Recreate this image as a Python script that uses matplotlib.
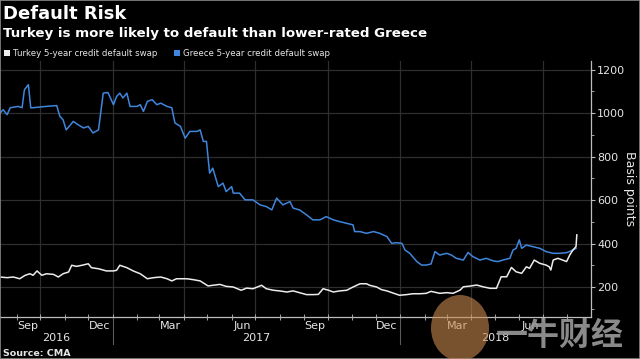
import matplotlib
matplotlib.use('Agg')
import matplotlib.pyplot as plt
import matplotlib.dates as mdates
import matplotlib.transforms as mtransforms
from matplotlib.patches import Rectangle, Ellipse
import pandas as pd

# ---------------- data ----------------
greece_dates = [
    "2016-08-11", "2016-08-15", "2016-08-20", "2016-08-24", "2016-09-03", "2016-09-08",
    "2016-09-11", "2016-09-16", "2016-09-19", "2016-09-22", "2016-10-05", "2016-10-22",
    "2016-10-26", "2016-10-30", "2016-11-03", "2016-11-12", "2016-11-18", "2016-11-25",
    "2016-12-01", "2016-12-07", "2016-12-14", "2016-12-20", "2016-12-26", "2017-01-02",
    "2017-01-06", "2017-01-10", "2017-01-14", "2017-01-19", "2017-01-23", "2017-02-01",
    "2017-02-05", "2017-02-09", "2017-02-14", "2017-02-20", "2017-02-26", "2017-03-03",
    "2017-03-11", "2017-03-17", "2017-03-21", "2017-03-28", "2017-04-03", "2017-04-09",
    "2017-04-18", "2017-04-22", "2017-04-26", "2017-04-30", "2017-05-04", "2017-05-08",
    "2017-05-15", "2017-05-21", "2017-05-25", "2017-06-01", "2017-06-03", "2017-06-11",
    "2017-06-18", "2017-06-28", "2017-07-07", "2017-07-15", "2017-07-22", "2017-07-28",
    "2017-08-05", "2017-08-14", "2017-08-18", "2017-08-26", "2017-09-04", "2017-09-12",
    "2017-09-21", "2017-09-29", "2017-10-08", "2017-10-16", "2017-10-25", "2017-11-02",
    "2017-11-04", "2017-11-11", "2017-11-19", "2017-11-28", "2017-12-06", "2017-12-15",
    "2017-12-21", "2017-12-27", "2018-01-03", "2018-01-07", "2018-01-13", "2018-01-22",
    "2018-01-28", "2018-02-03", "2018-02-09", "2018-02-14", "2018-02-20", "2018-03-01",
    "2018-03-07", "2018-03-13", "2018-03-22", "2018-03-28", "2018-04-03", "2018-04-12",
    "2018-04-20", "2018-04-29", "2018-05-05", "2018-05-11", "2018-05-20", "2018-05-24",
    "2018-05-28", "2018-06-01", "2018-06-04", "2018-06-10", "2018-06-18", "2018-06-27",
    "2018-07-05", "2018-07-14", "2018-07-22", "2018-07-31", "2018-08-08", "2018-08-12",
]
greece_values = [
    1000, 1016, 993, 1025, 1031, 1025,
    1108, 1131, 1025, 1025, 1030, 1035,
    985, 970, 923, 962, 947, 932,
    939, 909, 923, 1092, 1095, 1039,
    1077, 1092, 1070, 1092, 1031, 1031,
    1039, 1008, 1054, 1062, 1039, 1046,
    1031, 1025, 955, 939, 885, 916,
    916, 923, 870, 870, 724, 747,
    662, 678, 639, 662, 632, 632,
    601, 601, 578, 570, 555, 609,
    578, 593, 563, 555, 532, 509,
    509, 524, 509, 501, 493, 486,
    455, 455, 447, 455, 447, 432,
    401, 404, 401, 370, 355, 317,
    301, 301, 306, 363, 347, 355,
    347, 332, 324, 359, 340, 324,
    332, 320, 317, 324, 332, 370,
    378, 417, 378, 393, 386, 378,
    363, 355, 355, 358, 370, 378,
]

turkey_dates = [
    "2016-08-11", "2016-08-20", "2016-08-28", "2016-09-05", "2016-09-12", "2016-09-18",
    "2016-09-22", "2016-09-27", "2016-10-03", "2016-10-09", "2016-10-18", "2016-10-24",
    "2016-10-30", "2016-11-06", "2016-11-10", "2016-11-16", "2016-11-23", "2016-12-01",
    "2016-12-05", "2016-12-14", "2016-12-24", "2017-01-02", "2017-01-06", "2017-01-10",
    "2017-01-19", "2017-01-27", "2017-02-05", "2017-02-14", "2017-02-22", "2017-03-03",
    "2017-03-11", "2017-03-17", "2017-03-23", "2017-04-05", "2017-04-13", "2017-04-22",
    "2017-05-02", "2017-05-17", "2017-05-25", "2017-06-03", "2017-06-13", "2017-06-20",
    "2017-06-28", "2017-07-09", "2017-07-15", "2017-07-24", "2017-08-01", "2017-08-10",
    "2017-08-18", "2017-08-26", "2017-09-04", "2017-09-12", "2017-09-19", "2017-09-25",
    "2017-10-02", "2017-10-08", "2017-10-16", "2017-10-25", "2017-11-02", "2017-11-11",
    "2017-11-19", "2017-11-23", "2017-12-02", "2017-12-08", "2017-12-15", "2017-12-23",
    "2017-12-31", "2018-01-09", "2018-01-17", "2018-01-26", "2018-02-03", "2018-02-09",
    "2018-02-20", "2018-03-01", "2018-03-09", "2018-03-18", "2018-03-22", "2018-03-30",
    "2018-04-08", "2018-04-16", "2018-04-25", "2018-05-03", "2018-05-09", "2018-05-16",
    "2018-05-22", "2018-05-28", "2018-06-04", "2018-06-10", "2018-06-14", "2018-06-20",
    "2018-06-27", "2018-07-05", "2018-07-09", "2018-07-11", "2018-07-14", "2018-07-20",
    "2018-07-26", "2018-07-31", "2018-08-04", "2018-08-08", "2018-08-12", "2018-08-13",
]
turkey_values = [
    246, 243, 246, 238, 254, 261,
    254, 274, 254, 261, 258, 246,
    261, 269, 300, 295, 300, 307,
    289, 284, 274, 274, 277, 300,
    289, 274, 261, 238, 243, 246,
    238, 228, 238, 238, 234, 228,
    205, 212, 203, 200, 185, 195,
    192, 208, 192, 185, 182, 177,
    182, 174, 165, 165, 166, 192,
    185, 177, 182, 185, 200, 215,
    215, 208, 200, 188, 182, 172,
    162, 165, 169, 169, 171, 180,
    171, 174, 171, 186, 201, 204,
    209, 201, 194, 194, 247, 247,
    290, 270, 263, 293, 286, 324,
    309, 301, 293, 278, 324, 332,
    324, 317, 347, 370, 386, 440,
]

y_ticks = [200, 400, 600, 800, 1000, 1200]
month_labels = ["Sep", "Dec", "Mar", "Jun", "Sep", "Dec", "Mar", "Jun"]
month_label_dates = ["2016-09-15", "2016-12-15", "2017-03-15", "2017-06-15",
                     "2017-09-15", "2017-12-15", "2018-03-15", "2018-06-15"]
year_labels = ["2016", "2017", "2018"]
year_starts = ["2017-01-01", "2018-01-01"]
quarter_grid_dates = ["2016-10-01", "2017-01-01", "2017-04-01", "2017-07-01",
                      "2017-10-01", "2018-01-01", "2018-04-01", "2018-07-01"]
x_start, x_end = "2016-08-11", "2018-08-31"

# ---------------- styling ----------------
BG = "#000000"
BLUE = "#3f86dc"
WHITE = "#ececec"
GRID = "#2e2e2e"
TXT = "#e6e6e6"
W, H = 640, 359

fig = plt.figure(figsize=(6.4, 3.59), dpi=100, facecolor=BG)
ax = fig.add_axes([0.0, 42 / H, 591 / W, (317 - 61) / H])
ax.set_facecolor(BG)

gd = pd.to_datetime(greece_dates)
td = pd.to_datetime(turkey_dates)
ax.plot(gd, greece_values, color=BLUE, lw=1.1, zorder=3)
ax.plot(td, turkey_values, color=WHITE, lw=1.1, zorder=3)

ax.set_xlim(pd.Timestamp(x_start), pd.Timestamp(x_end))
ax.set_ylim(62, 1240)

# grid
for yv in y_ticks:
    ax.axhline(yv, color=GRID, lw=0.9, zorder=1)
for d in quarter_grid_dates:
    ax.axvline(pd.Timestamp(d), color=GRID, lw=0.9, zorder=1)

# spines
for s in ["top", "left"]:
    ax.spines[s].set_visible(False)
ax.spines["bottom"].set_color("#bdbdbd")
ax.spines["bottom"].set_linewidth(0.9)
ax.spines["right"].set_color("#bdbdbd")
ax.spines["right"].set_linewidth(0.9)

# y axis on right
ax.yaxis.tick_right()
ax.set_yticks(y_ticks)
ax.set_yticklabels([str(v) for v in y_ticks])
ax.set_yticks(list(range(100, 1300, 100)), minor=True)
ax.tick_params(axis="y", which="major", colors="#bdbdbd", labelcolor=TXT,
               labelsize=8, length=3, width=0.8, pad=1.5)
ax.tick_params(axis="y", which="minor", colors="#bdbdbd", length=2, width=0.6)
ax.yaxis.set_label_position("right")
ax.set_ylabel("Basis points", color=TXT, fontsize=9, rotation=270, labelpad=8)

# x axis
ax.xaxis.set_minor_locator(mdates.MonthLocator())
ax.set_xticks(pd.to_datetime(month_label_dates))
ax.set_xticklabels(month_labels)
ax.tick_params(axis="x", which="major", length=0, labelcolor=TXT, labelsize=8, pad=3)
ax.tick_params(axis="x", which="minor", direction="inout", length=4, width=0.6,
               colors="#bdbdbd")

# year labels & separators
trans = mtransforms.blended_transform_factory(ax.transData, ax.transAxes)
bounds = [pd.Timestamp(x_start)] + [pd.Timestamp(d) for d in year_starts] + [pd.Timestamp(x_end)]
for i, lab in enumerate(year_labels):
    mid = bounds[i] + (bounds[i + 1] - bounds[i]) / 2
    ax.text(mdates.date2num(mid), -0.082, lab, transform=trans, ha="center", va="center",
            color=TXT, fontsize=8)
for d in year_starts:
    ax.plot([pd.Timestamp(d)] * 2, [0, -0.105], transform=trans, color="#5a5a5a",
            lw=0.8, clip_on=False)

# titles
fig.text(3 / W, 1 - 14 / H, "Default Risk", color="white", fontsize=13,
         fontweight="bold", va="center", ha="left")
fig.text(3 / W, 1 - 33 / H, "Turkey is more likely to default than lower-rated Greece",
         color="white", fontsize=9.6, fontweight="bold", va="center", ha="left")

# legend
fig.patches.append(Rectangle((4 / W, 1 - 56 / H), 6 / W, 6 / H, transform=fig.transFigure,
                             facecolor=WHITE, edgecolor="none"))
fig.text(13 / W, 1 - 53 / H, "Turkey 5-year credit default swap", color=TXT,
         fontsize=6.25, va="center", ha="left")
fig.patches.append(Rectangle((174 / W, 1 - 56 / H), 6 / W, 6 / H, transform=fig.transFigure,
                             facecolor=BLUE, edgecolor="none"))
fig.text(183 / W, 1 - 53 / H, "Greece 5-year credit default swap", color=TXT,
         fontsize=6.25, va="center", ha="left")

# source
fig.text(3 / W, 1 - 353 / H, "Source: CMA", color=TXT, fontsize=6.8,
         fontweight="bold", va="center", ha="left")

# watermark
fig.patches.append(Ellipse((460 / W, 1 - 328 / H), 58 / W, 66 / H, transform=fig.transFigure,
                           facecolor="#c98a4e", edgecolor="none", alpha=0.6, zorder=5))
fig.text(560 / W, 1 - 336 / H, "一牛财经", color="#9a9a9a", fontsize=23, fontweight="bold",
         family=["Noto Sans CJK SC", "DejaVu Sans"], va="center", ha="center", alpha=0.9,
         zorder=6)

# frame
fig.patches.append(Rectangle((0, 0), 1, 1, transform=fig.transFigure, facecolor="none",
                             edgecolor="#8a8a8a", lw=1.2))

fig.savefig("out.png", dpi=100, facecolor=BG)
